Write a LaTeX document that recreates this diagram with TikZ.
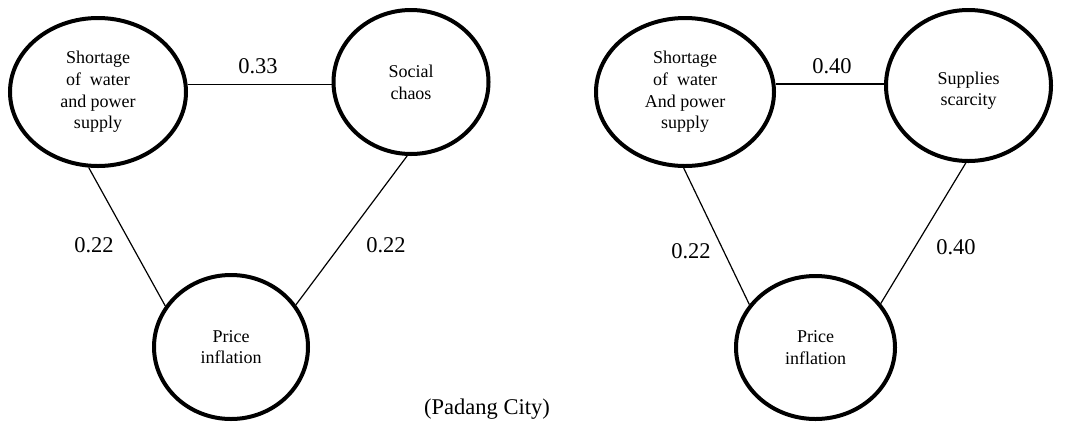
\documentclass[tikz,border=0pt]{standalone}
\usepackage{fontspec}
\setmainfont{Liberation Serif}
\usetikzlibrary{shapes.geometric}
\begin{document}
\begin{tikzpicture}[x=1pt,y=-1pt,
  ell/.style={ellipse,draw,line width=4pt,inner sep=0pt,align=center,
    font=\fontsize{18}{21.7}\selectfont},
  conn/.style={line width=1.2pt},
  wlabel/.style={font=\fontsize{22.5}{26}\selectfont,inner sep=0pt}]
\useasboundingbox (0,0) rectangle (1065,424);
% left diagram
\node[ell,minimum width=176pt,minimum height=148pt] (A) at (98,92) {Shortage\\of\ \ water\\and power\\supply};
\node[ell,minimum width=155pt,minimum height=144pt] (B) at (411,82) {Social\\chaos};
\node[ell,minimum width=154pt,minimum height=144pt] (C) at (231,347) {Price\\inflation};
\draw[conn] (A.5) -- (A.5 -| B.west);
\draw[conn] (A.-97) -- (C.148);
\draw[conn] (B.-93) -- (C.33);
\node[wlabel] (lab1) at (258,66) {0.33};
\node[wlabel] (lab2) at (94,245) {0.22};
\node[wlabel] (lab3) at (386,245) {0.22};
% right diagram
\node[ell,minimum width=178pt,minimum height=148pt] (A2) at (685,92) {Shortage\\of\ \ water\\And power\\supply};
\node[ell,minimum width=165pt,minimum height=151pt] (B2) at (968.5,85.5) {\raisebox{-9.5pt}[0pt][0pt]{\begin{tabular}{@{}c@{}}Supplies\\scarcity\end{tabular}}};
\node[ell,minimum width=159pt,minimum height=143pt] (C2) at (815.5,347.5) {Price\\inflation};
\draw[conn] (A2.5) -- (A2.5 -| B2.west);
\draw[conn] (A2.-91) -- (C2.147);
\draw[conn] (B2.-92) -- (C2.34);
\node[wlabel] (lab4) at (832,66) {0.40};
\node[wlabel] (lab5) at (691,251) {0.22};
\node[wlabel] (lab6) at (956,247) {0.40};
% caption
\node[wlabel] (cap) at (487,409) {(Padang City)};
\end{tikzpicture}
\end{document}
